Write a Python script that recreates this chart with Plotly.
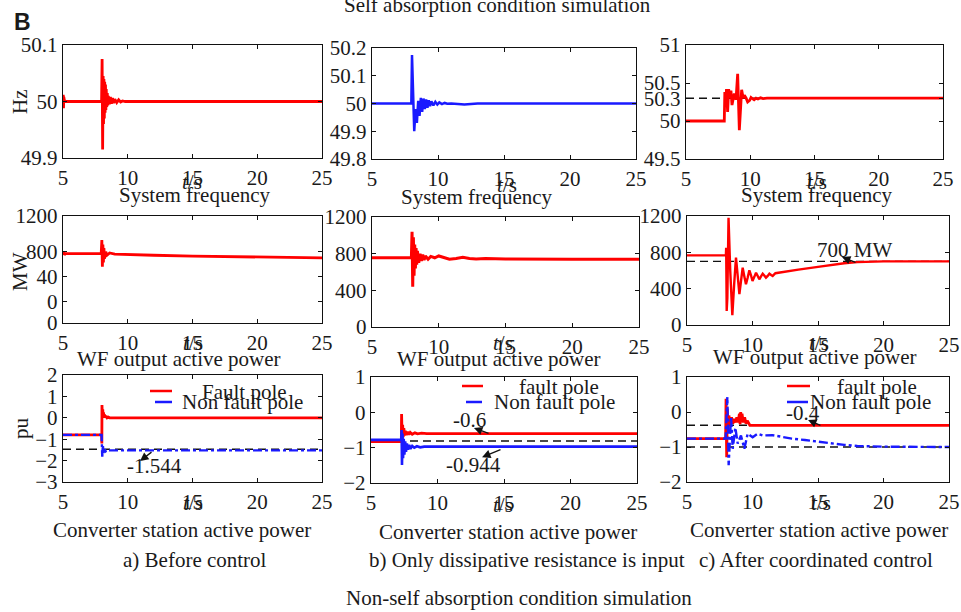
import plotly.graph_objects as go

# ---------------- data ----------------
X_TICKS = [5, 10, 15, 20, 25]

# Row 1: system frequency (Hz)
A1_T = [5, 5.02, 5.04, 5.06, 5.08, 5.1, 5.15, 7.98, 8.02, 8.06, 8.1, 8.13, 8.16, 8.19, 8.22, 8.25, 8.28, 8.31,
        8.34, 8.38, 8.42, 8.46, 8.5, 8.58, 8.66, 8.74, 8.82, 8.9, 9.0, 9.15, 9.3, 9.45, 9.6, 9.8, 10, 25]
A1_F = [50, 50.012, 49.988, 50.008, 49.992, 50.003, 50, 50, 50.075, 49.915, 50.045, 49.96, 50.04, 49.97, 50.035,
        49.98, 50.03, 49.985, 50.022, 49.99, 50.015, 49.993, 50.01, 49.995, 50.008, 49.996, 50.006, 49.997,
        50.004, 49.998, 50.003, 49.999, 50.001, 50.0, 50.0, 50.0]

B1_T = [5, 7.98, 8.03, 8.2, 8.3, 8.4, 8.5, 8.6, 8.7, 8.8, 8.9, 9.0, 9.1, 9.2, 9.3, 9.4, 9.5, 9.65, 9.8, 9.95,
        10.1, 10.3, 10.5, 10.7, 11.0, 11.5, 12.0, 12.5, 13, 25]
B1_F = [50, 50, 50.175, 49.90, 49.98, 49.93, 50.01, 49.955, 50.02, 49.97, 50.018, 49.98, 50.015, 49.985,
        50.012, 49.99, 50.008, 49.993, 50.006, 49.996, 50.004, 49.998, 50.002, 49.999, 50.0, 49.997, 49.996,
        49.998, 50.0, 50.0]

C1_T = [5, 7.98, 8.02, 8.1, 8.15, 8.24, 8.32, 8.4, 8.5, 8.58, 8.68, 8.76, 8.89, 9.02, 9.15, 9.33, 9.45, 9.54,
        9.68, 9.8, 9.95, 10.06, 10.2, 10.3, 10.45, 10.6, 10.8, 11.0, 11.3, 11.6, 12, 25]
C1_F = [50, 50, 50.38, 50.2, 50.42, 50.12, 50.42, 50.3, 50.4, 50.21, 50.3, 50.36, 50.28, 50.62, 49.88, 50.41,
        50.3, 50.34, 50.3, 50.25, 50.27, 50.31, 50.29, 50.28, 50.3, 50.29, 50.305, 50.295, 50.3, 50.298, 50.3,
        50.3]
C1_REF = [50.3]

# Row 2: wind farm output active power (MW)
A2_T = [5, 5.05, 5.1, 5.2, 7.95, 8.0, 8.04, 8.08, 8.12, 8.16, 8.2, 8.3, 8.4, 8.6, 9, 10, 12, 15, 18, 21, 25]
A2_P = [780, 800, 765, 780, 778, 930, 630, 880, 680, 840, 720, 800, 760, 785, 772, 770, 760, 750, 742, 736, 730]

B2_T = [5, 7.95, 8.0, 8.05, 8.1, 8.15, 8.2, 8.25, 8.3, 8.35, 8.4, 8.5, 8.6, 8.7, 8.8, 8.9, 9.0, 9.2, 9.4,
        9.7, 10.0, 10.4, 10.8, 11.3, 11.8, 12.3, 12.8, 13.5, 15, 20, 25]
B2_P = [756, 756, 1040, 440, 980, 560, 900, 640, 860, 680, 830, 700, 800, 720, 790, 730, 775, 740, 770, 755,
        775, 760, 740, 748, 760, 748, 742, 746, 742, 740, 738]

C2_T = [5, 7.97, 7.99, 8.03, 8.08, 8.17, 8.3, 8.46, 8.6, 8.74, 8.87, 9.0, 9.12, 9.25, 9.37, 9.5, 9.63, 9.76,
        9.88, 10.0, 10.14, 10.27, 10.4, 10.52, 10.65, 10.78, 10.9, 11.03, 11.16, 11.29, 11.42, 11.54, 11.75,
        12.5, 13.5, 15, 16, 17, 18, 19, 20, 25]
C2_P = [767, 767, 850, 154, 300, 1180, 600, 107, 450, 741, 540, 341, 480, 631, 540, 448, 520, 602, 550, 485,
        530, 576, 540, 503, 535, 565, 545, 521, 540, 565, 550, 540, 570, 590, 610, 640, 662, 680, 692, 698,
        700, 700]
C2_REF = [700]

# Row 3: converter station active power (pu)
A3_T_FAULT = [5, 7.98, 8.0, 8.01, 8.04, 8.07, 8.1, 8.13, 8.17, 8.21, 8.26, 8.32, 8.4, 8.5, 8.6, 25]
A3_FAULT = [-0.8, -0.8, -1.2, 0.6, 0.0, 0.4, 0.0, 0.25, 0.0, 0.15, 0.0, 0.08, 0.0, 0.03, 0.0, 0.0]
A3_T_NON = [5, 7.98, 8.0, 8.03, 8.08, 8.13, 8.2, 8.3, 8.4, 8.6, 25]
A3_NON = [-0.8, -0.8, -1.2, -1.82, -1.3, -1.65, -1.45, -1.56, -1.5, -1.52, -1.52]
A3_REF = [-1.47]

B3_T_FAULT = [5, 7.28, 7.3, 7.34, 7.38, 7.42, 7.47, 7.52, 7.58, 7.65, 7.75, 7.85, 7.95, 8.1, 8.3, 8.5, 8.8,
              9.2, 25]
B3_FAULT = [-0.83, -0.83, -0.05, -0.75, -0.35, -0.7, -0.45, -0.66, -0.52, -0.64, -0.55, -0.63, -0.57, -0.62,
            -0.58, -0.61, -0.59, -0.6, -0.6]
B3_T_NON = [5, 7.28, 7.3, 7.33, 7.37, 7.41, 7.46, 7.51, 7.57, 7.63, 7.7, 7.78, 7.87, 7.97, 8.1, 8.25, 8.45,
            8.7, 9.0, 25]
B3_NON = [-0.78, -0.78, -0.5, -1.49, -0.6, -1.3, -0.75, -1.2, -0.82, -1.12, -0.88, -1.06, -0.92, -1.03,
          -0.95, -1.0, -0.96, -0.99, -0.97, -0.97]
B3_REF = [-0.81]

C3_T_FAULT = [5, 7.95, 7.98, 8.03, 8.08, 8.14, 8.2, 8.3, 8.4, 8.5, 8.6, 8.7, 8.8, 8.9, 9.0, 9.05, 9.1,
              9.15, 9.2, 9.3, 9.4, 9.5, 9.6, 9.8, 25]
C3_FAULT = [-0.76, -0.76, 0.38, -1.29, 0.1, -0.5, -0.1, -0.4, -0.15, -0.33, -0.2, -0.3, -0.15, -0.3,
            -0.05, -0.35, 0.0, -0.3, -0.05, -0.3, -0.15, -0.33, -0.25, -0.38, -0.38]
C3_T_NON = [5, 7.95, 8.08, 8.18, 8.36, 8.49, 8.69, 8.87, 9.12, 9.38, 9.63, 10.01, 10.39, 10.78, 11.5, 12,
            13, 14, 15, 16, 17, 18, 19, 20, 25]
C3_NON = [-0.76, -0.76, 0.43, -1.52, -0.14, -1.05, -0.45, -0.9, -0.67, -1.05, -0.62, -0.72, -0.62, -0.67,
          -0.66, -0.7, -0.76, -0.8, -0.85, -0.9, -0.94, -0.97, -0.98, -0.99, -1.0]
C3_REF = [-0.38, -1.0]

# tick labels
A1_YT = [49.9, 50, 50.1]
B1_YT = [49.8, 49.9, 50, 50.1, 50.2]
C1_YT = [49.5, 50, 50.3, 50.5, 51]
A2_YT = [0, 240, 520, 800, 1200]
A2_YT_TEXT = ["0", "0", "40", "800", "1200"]
BC2_YT = [0, 400, 800, 1200]
A3_YT = [-3, -2, -1, 0, 1, 2]
BC3_YT = [-2, -1, 0, 1]

# ---------------- figure ----------------
W, H = 961, 612
FONT = "Liberation Serif, Times New Roman, serif"
FS = 21
RED = "#ff0000"
BLUE = "#1a1aff"
TXT = "#1a1a1a"


def fx(p):
    return p / W


def fy(p):
    return 1 - p / H


# panel boxes in pixels: (left, right, top, bottom)
BOX = [
    (63, 322, 45, 158), (372, 636, 48, 159), (686, 943, 45, 159),
    (63, 322, 216, 323), (372, 639, 217, 327), (687, 949, 216, 325),
    (63, 322, 375, 482), (371, 637, 377, 483), (687, 949, 377, 482),
]
YRANGES = [[49.9, 50.1], [49.8, 50.2], [49.5, 51], [0, 1200], [0, 1200], [0, 1200],
           [-3, 2], [-2, 1], [-2, 1]]
YTICKS = [(A1_YT, None), (B1_YT, None), (C1_YT, None), (A2_YT, A2_YT_TEXT), (BC2_YT, None), (BC2_YT, None),
          (A3_YT, None), (BC3_YT, None), (BC3_YT, None)]

fig = go.Figure()
layout = dict(template="none", width=W, height=H, margin=dict(l=0, r=0, t=0, b=0, pad=0),
              paper_bgcolor="white", plot_bgcolor="white", showlegend=False,
              font=dict(family=FONT, size=FS, color=TXT))

for i, (l, r, t, b) in enumerate(BOX):
    n = "" if i == 0 else str(i + 1)
    common = dict(showline=True, linecolor="#111", linewidth=1.3, mirror="ticks", ticks="inside",
                  ticklen=4, tickcolor="#111", showgrid=False, zeroline=False, automargin=False,
                  tickfont=dict(family=FONT, size=FS, color=TXT))
    layout["xaxis" + n] = dict(domain=[fx(l), fx(r)], anchor="y" + n, range=[5, 25], tickvals=X_TICKS,
                               **common)
    tv, tt = YTICKS[i]
    yax = dict(domain=[fy(b), fy(t)], anchor="x" + n, range=YRANGES[i], tickvals=tv, **common)
    if tt is not None:
        yax["ticktext"] = tt
    layout["yaxis" + n] = yax


def add_line(i, xs, ys, color, width=2.8, dash="solid"):
    n = "" if i == 0 else str(i + 1)
    fig.add_trace(go.Scatter(x=xs, y=ys, mode="lines", line=dict(color=color, width=width, dash=dash),
                             xaxis="x" + n, yaxis="y" + n, hoverinfo="skip"))


def add_refs(i, levels):
    for lv in levels:
        add_line(i, [X_TICKS[0], X_TICKS[-1]], [lv, lv], "#111", width=1.4, dash="8px,5px")


add_line(0, A1_T, A1_F, RED)
add_line(1, B1_T, B1_F, BLUE, width=2.5)
add_refs(2, C1_REF)
add_line(2, C1_T, C1_F, RED)
add_refs(5, C2_REF)
add_line(3, A2_T, A2_P, RED)
add_line(4, B2_T, B2_P, RED, width=3)
add_line(5, C2_T, C2_P, RED, width=2.4)
add_refs(6, A3_REF)
add_line(6, A3_T_FAULT, A3_FAULT, RED)
add_line(6, A3_T_NON, A3_NON, BLUE, width=2.4, dash="9px,3px,3px,3px")
add_refs(7, B3_REF)
add_line(7, B3_T_FAULT, B3_FAULT, RED)
add_line(7, B3_T_NON, B3_NON, BLUE, width=2.6)
add_refs(8, C3_REF)
add_line(8, C3_T_FAULT, C3_FAULT, RED)
add_line(8, C3_T_NON, C3_NON, BLUE, width=2.4, dash="9px,3px,3px,3px")

ann = []
shapes = []


def text(x, y, s, size=FS, xanchor="center", angle=0, **kw):
    ann.append(dict(x=fx(x), y=fy(y), xref="paper", yref="paper", text=s, showarrow=False,
                    xanchor=xanchor, yanchor="middle", textangle=angle,
                    font=dict(family=kw.get("family", FONT), size=size, color=TXT)))


# titles
text(22, 22, "<b>B</b>", size=23, family="Liberation Sans, Arial, sans-serif")
text(497, 5, "Self absorption condition simulation")
text(519, 598, "Non-self absorption condition simulation")

# y axis titles (left column)
text(20, 102, "Hz", angle=-90)
text(20, 272, "MW", angle=-90)
text(21, 428, "pu", angle=-90)

# t/s labels and subtitles
for (x, y) in [(192, 182), (507, 185), (817, 182), (193, 343), (503, 343), (819, 343),
               (193, 503), (503, 505), (821, 503)]:
    text(x, y, "<i>t</i>/s")
for (x, y) in [(195, 195), (477, 197), (817, 195)]:
    text(x, y, "System frequency")
for (x, y) in [(179, 359), (499, 359), (815, 357)]:
    text(x, y, "WF output active power")
for (x, y) in [(182, 530), (508, 532), (819, 530)]:
    text(x, y, "Converter station active power")
text(195, 560, "a) Before control")
text(527, 560, "b) Only dissipative resistance is input")
text(816, 560, "c) After coordinated control")

# legends (drawn manually, overlapping like the original)
for (rx0, rx1, ry, tx, lab1, bx0, bx1, by, tx2) in [
        (150, 172, 391, 200, "Fault pole", 155, 172, 402, 180),
        (462, 483, 386, 517, "fault pole", 466, 482, 402, 492),
        (787, 810, 386, 835, "fault pole", 787, 808, 402, 808)]:
    shapes.append(dict(type="line", xref="paper", yref="paper", x0=fx(rx0), x1=fx(rx1), y0=fy(ry),
                       y1=fy(ry), line=dict(color=RED, width=2.5)))
    shapes.append(dict(type="line", xref="paper", yref="paper", x0=fx(bx0), x1=fx(bx1), y0=fy(by),
                       y1=fy(by), line=dict(color=BLUE, width=2.5)))
    text(tx, ry + 1, lab1, xanchor="left")
    text(tx2, by, "Non fault pole", xanchor="left")


# value labels with arrows (data coordinates)
def arrow(i, hx, hy, tx, ty):
    n = "" if i == 0 else str(i + 1)
    ann.append(dict(x=hx, y=hy, ax=tx, ay=ty, xref="x" + n, yref="y" + n, axref="x" + n, ayref="y" + n,
                    text="", showarrow=True, arrowhead=2, arrowsize=1.3, arrowwidth=1.3, arrowcolor="#111"))


def dtext(i, x, y, s):
    n = "" if i == 0 else str(i + 1)
    ann.append(dict(x=x, y=y, xref="x" + n, yref="y" + n, text=s, showarrow=False,
                    font=dict(family=FONT, size=FS, color=TXT)))


arrow(6, 10.95, -2.02, 11.95, -1.55)
dtext(6, 12.1, -2.25, "-1.544")
arrow(7, 12.74, -0.44, 13.95, -0.61)
dtext(7, 12.44, -0.22, "-0.6")
arrow(7, 13.35, -1.27, 14.85, -1.04)
dtext(7, 12.74, -1.49, "-0.944")
arrow(5, 16.83, 749, 17.98, 683)
dtext(5, 17.8, 826, "700 MW")
arrow(8, 14.24, -0.23, 15.3, -0.4)
dtext(8, 13.85, -0.03, "-0.4")

layout["annotations"] = ann
layout["shapes"] = shapes
fig.update_layout(**layout)
fig.write_html("out.html", config={"displayModeBar": False, "staticPlot": True},
               post_script="document.body.style.margin='0';document.body.style.padding='0';")
